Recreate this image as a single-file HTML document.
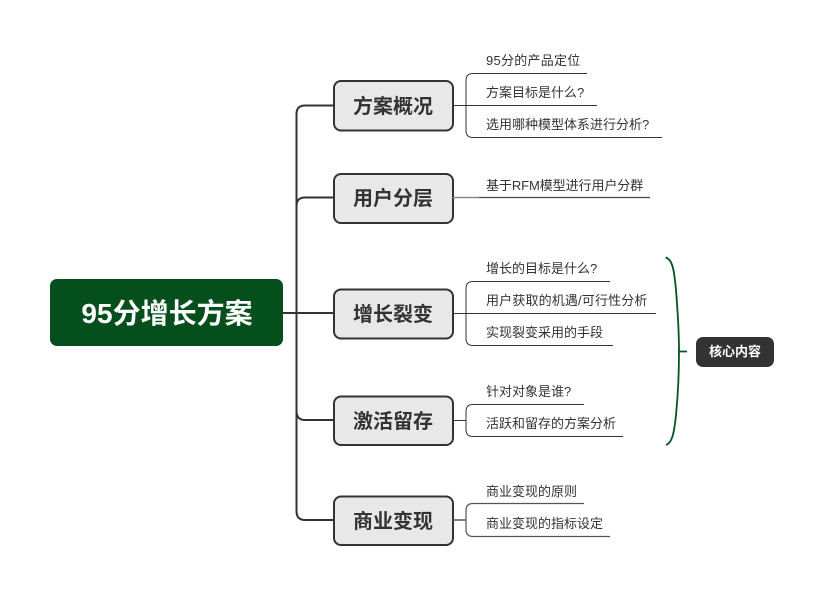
<!DOCTYPE html>
<html><head><meta charset="utf-8"><style>
html,body{margin:0;padding:0;background:#fff}
body{width:824px;height:595px;overflow:hidden}
text{font-family:"Liberation Sans","Noto Sans CJK SC",sans-serif}
.n{font-size:20px;font-weight:700;fill:#333;text-anchor:middle}
.l{font-size:13px;fill:#333}
</style></head><body>
<svg width="824" height="595" viewBox="0 0 824 595" xmlns="http://www.w3.org/2000/svg" style="display:block">
<g fill="none" stroke="#333" stroke-width="2">
<path d="M283 313H334"/>
<path d="M334 105.500H305Q296.500 105.500 296.500 114V511Q296.500 520 305 520H334"/>
<path d="M334 197.500H305Q296.500 197.500 296.500 206"/>
<path d="M296.500 411Q296.500 420 305 420H334"/>
</g>
<g fill="#e8e8e8" stroke="#333" stroke-width="2">
<rect x="334" y="81" width="119" height="49.500" rx="7"/>
<rect x="334" y="174" width="119" height="49" rx="7"/>
<rect x="334" y="289.500" width="119" height="49" rx="7"/>
<rect x="334" y="396.500" width="119" height="48.500" rx="7"/>
<rect x="334" y="496.500" width="119" height="48.500" rx="7"/>
</g>
<rect x="50" y="279" width="233" height="67" rx="7" fill="#044f1c"/>
<g fill="none" stroke="#333" stroke-width="1">
<path d="M587 73.500H473Q466 73.500 466 80.500V130.500Q466 137.500 473 137.500H662"/>
<path d="M453 105.500H597"/>
<path d="M610 281.500H473Q466 281.500 466 288.500V338.500Q466 345.500 473 345.500H613"/>
<path d="M453 313.500H656"/>
<path d="M584 404.500H473Q466 404.500 466 411.500V429.500Q466 436.500 473 436.500H623"/>
<path d="M453 420.500H466"/>
</g>
<path d="M453 197.500H479" stroke="#888" stroke-width="1.500" fill="none"/>
<path d="M479 197.500H650" stroke="#444" stroke-width="1.200" fill="none"/>
<path d="M584 503.500H473Q466 503.500 466 510.500V529.500Q466 536.500 473 536.500H610" stroke="#555" stroke-width="1.200" fill="none"/>
<path d="M453 520H466" stroke="#555" stroke-width="1.500" fill="none"/>
<path d="M665.500 257.500C672 259 674 268 676 290C678 315 679 335 679 351C679 367 678 395 676 415C674 434 672 443 666 445M679 351.500H687" fill="none" stroke="#04551f" stroke-width="1.800"/>
<rect x="696" y="337" width="78" height="30" rx="7" fill="#333"/>
<text x="167" y="323" font-size="28" font-weight="700" fill="#fff" text-anchor="middle">95分增长方案</text>
<text class="n" x="393" y="113">方案概况</text>
<text class="n" x="393" y="205">用户分层</text>
<text class="n" x="393" y="321">增长裂变</text>
<text class="n" x="393" y="428">激活留存</text>
<text class="n" x="393" y="528">商业变现</text>
<g class="l">
<text class="l" x="486" y="65" letter-spacing=".25">95分的产品定位</text>
<text class="l" x="486" y="97">方案目标是什么?</text>
<text class="l" x="486" y="129">选用哪种模型体系进行分析?</text>
<text class="l" x="486" y="190" letter-spacing="-.08">基于RFM模型进行用户分群</text>
<text class="l" x="486" y="273">增长的目标是什么?</text>
<text class="l" x="486" y="305" letter-spacing=".15">用户获取的机遇/可行性分析</text>
<text class="l" x="486" y="337">实现裂变采用的手段</text>
<text class="l" x="486" y="396">针对对象是谁?</text>
<text class="l" x="486" y="428">活跃和留存的方案分析</text>
<text class="l" x="486" y="496">商业变现的原则</text>
<text class="l" x="486" y="528">商业变现的指标设定</text>
</g>
<text x="735" y="356" font-size="13" font-weight="700" fill="#fff" text-anchor="middle">核心内容</text>
</svg>
</body></html>
